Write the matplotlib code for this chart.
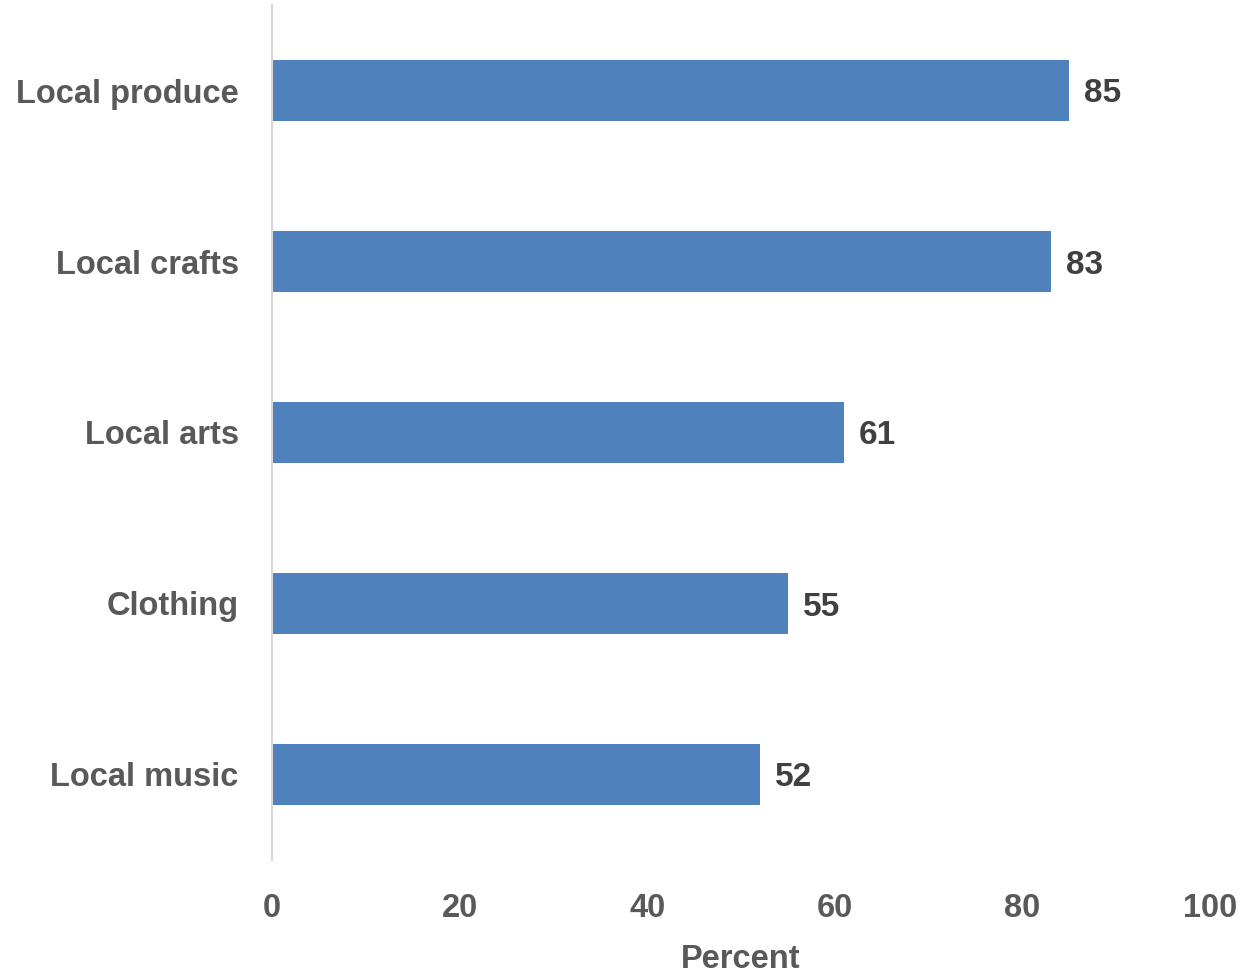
import matplotlib
matplotlib.use("Agg")
import matplotlib.pyplot as plt

categories = ["Local produce", "Local crafts", "Local arts", "Clothing", "Local music"]
values = [85, 83, 61, 55, 52]
x_ticks = [0, 20, 40, 60, 80, 100]

plt.rcParams['font.family'] = ['Liberation Sans', 'DejaVu Sans']

fig = plt.figure(figsize=(12.5, 9.75), dpi=100)
ax = fig.add_axes([272 / 1250, 115 / 975, 938 / 1250, 855 / 975])

ypos = list(range(len(categories)))[::-1]
ax.barh(ypos, values, height=0.355, color="#4f81bd", edgecolor="none")

for y, v in zip(ypos, values):
    ax.text(v + 1.6, y, str(v), va="center_baseline", ha="left", fontsize=24,
            fontweight="bold", color="#404040")

ax.set_xlim(0, 100)
ax.set_ylim(-0.5, len(categories) - 0.5)
ax.set_yticks(ypos)
ax.set_yticklabels(categories, fontsize=23.5, fontweight="bold", color="#595959",
                   va="center_baseline")
ax.set_xticks(x_ticks)
ax.set_xticklabels([str(t) for t in x_ticks], fontsize=23.5, fontweight="bold", color="#595959")
ax.tick_params(axis="both", length=0)
ax.tick_params(axis="y", pad=24)
ax.tick_params(axis="x", pad=24)
ax.set_xlabel("Percent", fontsize=23.5, fontweight="bold", color="#595959", labelpad=14)

for side in ["top", "right", "bottom"]:
    ax.spines[side].set_visible(False)
ax.spines["left"].set_color("#d9d9d9")
ax.spines["left"].set_linewidth(1.5)

fig.savefig("out.png", dpi=100)
